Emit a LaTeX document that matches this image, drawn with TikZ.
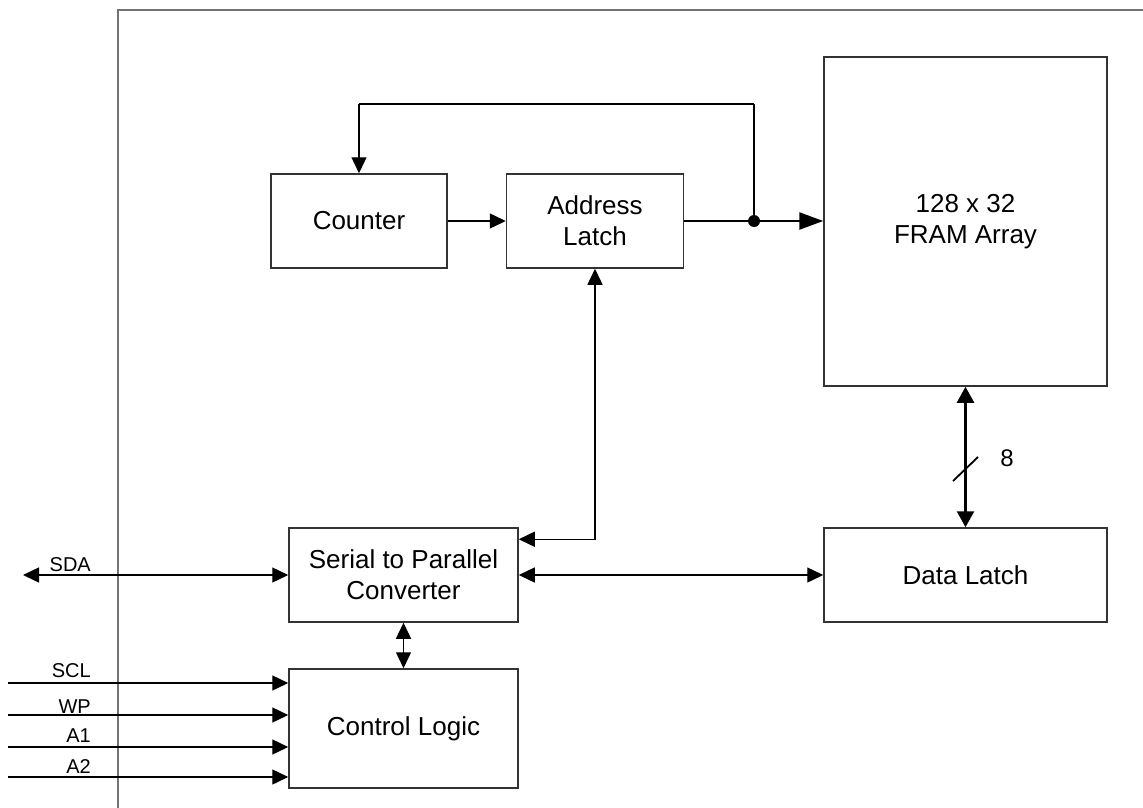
\documentclass[tikz,border=0pt]{standalone}
\usepackage{fontspec}
\setmainfont{Liberation Sans}
\usetikzlibrary{arrows.meta,calc}
\begin{document}
\begin{tikzpicture}[x=1pt,y=-1pt,
  box/.style={draw=black!80,line width=1.5pt,rectangle,inner sep=0pt,align=center,
    font=\fontsize{26}{31}\selectfont},
  lbl/.style={font=\fontsize{20}{24}\selectfont,inner sep=0pt,anchor=base east},
  wire/.style={line width=1.4pt},
  tip/.style={Triangle[length=16pt,width=15pt]},
  arr/.style={wire,-{Triangle[length=16pt,width=15pt]}},
  barr/.style={wire,{Triangle[length=16pt,width=15pt]}-{Triangle[length=16pt,width=15pt]}},
  thk/.style={line width=2.4pt}
]
\useasboundingbox (0,0) rectangle (1143,808);
% frame
\draw[line width=2pt,black!55] (1143,10) -- (117.7,10) -- (117.7,808);

% blocks
\node[box,minimum width=176pt,minimum height=94pt] (counter) at (359,221) {Counter};
\node[box,minimum width=177pt,minimum height=94pt] (addr) at (595,221) {Address\\Latch};
\node[box,minimum width=283pt,minimum height=329pt] (fram) at (965.5,221.5) {128 x 32\\FRAM Array};
\node[box,minimum width=283pt,minimum height=94pt] (data) at (965.5,575) {Data Latch};
\node[box,minimum width=229pt,minimum height=94pt] (conv) at (403.5,575) {Serial to Parallel\\Converter};
\node[box,minimum width=229pt,minimum height=119pt] (ctrl) at (403.5,728.5) {Control Logic};

% counter -> address latch
\draw[arr] (counter) -- (addr);
% address latch -> FRAM with junction
\coordinate (j) at (754,221);
\draw[thk,-{Triangle[length=24pt,width=17pt]}] (addr.east) -- (fram.west |- addr.east);
\fill (j) circle (6pt);
\draw[wire] (j) -- (754,104);
\draw[thk] (754,104) -- (359,104);
\draw[arr] (359,104) -- (counter.north);

% address latch <-> converter
\coordinate (cin) at ($(conv.north east)+(0,12)$);
\draw[barr] (addr.south) |- (cin);

% converter <-> data latch
\draw[barr] (conv.east) -- (data.west);
% converter <-> control logic
\draw[barr] (conv.south) -- (ctrl.north);
% FRAM <-> data latch
\draw[thk,{Triangle[length=16pt,width=17pt]}-{Triangle[length=16pt,width=17pt]}] (fram.south) -- (data.north);
\coordinate (s1) at (953,481);
\coordinate (s2) at (978,457);
\draw[line width=1.8pt] (s1) -- (s2);
\node[font=\fontsize{24}{28}\selectfont,inner sep=0pt] (eight) at (1007,458) {8};

% SDA
\coordinate (sda) at (23,575);
\draw[barr] (sda) -- (conv.west);
\node[lbl] (lsda) at (91,571) {SDA};

% control inputs
\coordinate (iscl) at (8,683);
\coordinate (iwp) at (8,715);
\coordinate (ia1) at (8,747);
\coordinate (ia2) at (8,777);
\draw[arr] (iscl) -- (ctrl.west |- iscl);
\draw[arr] (iwp) -- (ctrl.west |- iwp);
\draw[arr] (ia1) -- (ctrl.west |- ia1);
\draw[arr] (ia2) -- (ctrl.west |- ia2);
\node[lbl] (lscl) at (91,677) {SCL};
\node[lbl] (lwp) at (91,713) {WP};
\node[lbl] (la1) at (91,742) {A1};
\node[lbl] (la2) at (91,773) {A2};
\end{tikzpicture}
\end{document}
